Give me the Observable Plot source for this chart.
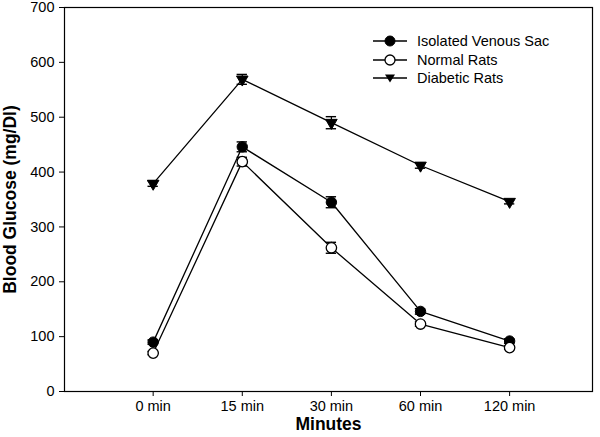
<!DOCTYPE html>
<html>
<head>
<meta charset="utf-8">
<script src="https://cdn.jsdelivr.net/npm/d3@7"></script>
<script src="https://cdn.jsdelivr.net/npm/@observablehq/plot@0.6"></script>
<style>
  html, body { margin: 0; padding: 0; background: #fff; }
  #wrap { position: relative; width: 600px; height: 437px; font-family: "Liberation Sans", Arial, sans-serif; }
  #wrap svg [aria-label="y-axis label"], #wrap svg [aria-label="x-axis label"] { font-weight: bold; font-size: 17.5px; }
  #legend { position: absolute; left: 373px; top: 32px; font-size: 14.5px; color: #000; line-height: 18.5px; }
  #legend .row { display: flex; align-items: center; height: 18.5px; }
  #legend svg { margin-right: 10px; }
</style>
</head>
<body>
<div id="wrap"></div>
<script>
const timeLabels = ["0 min", "15 min", "30 min", "60 min", "120 min"];
const seriesNames = ["Isolated Venous Sac", "Normal Rats", "Diabetic Rats"];
const venous = [90, 446, 345, 146, 92];
const venousErr = [4, 9, 10, 5, 4];
const normal = [70, 419, 262, 123, 80];
const normalErr = [3, 8, 10, 4, 3];
const diabetic = [379, 569, 490, 412, 346];
const diabeticErr = [5, 9, 11, 5, 4];
const yTicks = [0, 100, 200, 300, 400, 500, 600, 700];

const rows = [];
[[venous, venousErr], [normal, normalErr], [diabetic, diabeticErr]].forEach(([vals, errs], s) => {
  vals.forEach((v, i) => rows.push({series: seriesNames[s], x: i, y: v, e: errs[i]}));
});
const capHalf = 0.058;
const bySeries = name => rows.filter(d => d.series === name);

const chart = Plot.plot({
  width: 600,
  height: 437,
  marginLeft: 64,
  marginRight: 8,
  marginTop: 7,
  marginBottom: 46,
  style: {fontFamily: "'Liberation Sans', Arial, sans-serif", fontSize: "14.5px", color: "#000", background: "#fff"},
  x: {domain: [-0.995, 4.93]},
  y: {domain: [0, 700]},
  marks: [
    Plot.frame({stroke: "#000", strokeWidth: 1.2}),
    Plot.axisX({ticks: [0, 1, 2, 3, 4], tickFormat: i => timeLabels[i], tickSize: 5, tickPadding: 4,
      label: "Minutes", labelAnchor: "center", labelArrow: "none", labelOffset: 38, stroke: "#000"}),
    Plot.axisY({ticks: yTicks, tickSize: 5, tickPadding: 5, tickFormat: d => String(d),
      label: "Blood Glucose (mg/Dl)", labelAnchor: "center", labelArrow: "none", labelOffset: 61, stroke: "#000"}),
    ...seriesNames.map(n => Plot.line(bySeries(n), {x: "x", y: "y", stroke: "#000", strokeWidth: 1.3})),
    Plot.ruleX(rows, {x: "x", y1: d => d.y - d.e, y2: d => d.y + d.e, stroke: "#000", strokeWidth: 1.2}),
    Plot.ruleY(rows, {y: d => d.y + d.e, x1: d => d.x - capHalf, x2: d => d.x + capHalf, stroke: "#000", strokeWidth: 1.4}),
    Plot.ruleY(rows, {y: d => d.y - d.e, x1: d => d.x - capHalf, x2: d => d.x + capHalf, stroke: "#000", strokeWidth: 1.4}),
    Plot.dot(bySeries(seriesNames[0]), {x: "x", y: "y", r: 5.2, fill: "#000", stroke: "#000", strokeWidth: 1}),
    Plot.dot(bySeries(seriesNames[1]), {x: "x", y: "y", r: 5.2, fill: "#fff", stroke: "#000", strokeWidth: 1.3}),
    Plot.dot(bySeries(seriesNames[2]), {x: "x", y: "y", r: 4.3, symbol: "triangle", rotate: 180, fill: "#000", stroke: "#000", strokeWidth: 1})
  ]
});
const wrap = document.getElementById("wrap");
wrap.appendChild(chart);

const legendSym = [
  '<circle cx="17" cy="7" r="5" fill="#000" stroke="#000"/>',
  '<circle cx="17" cy="7" r="5" fill="#fff" stroke="#000" stroke-width="1.3"/>',
  '<path d="M12,3.5 L22,3.5 L17,11.5 Z" fill="#000"/>'
];
const legend = document.createElement("div");
legend.id = "legend";
legend.innerHTML = seriesNames.map((n, i) =>
  `<div class="row"><svg width="34" height="14"><line x1="0" x2="34" y1="7" y2="7" stroke="#000" stroke-width="1.3"/>${legendSym[i]}</svg><span>${n}</span></div>`
).join("");
wrap.appendChild(legend);
</script>
</body>
</html>
